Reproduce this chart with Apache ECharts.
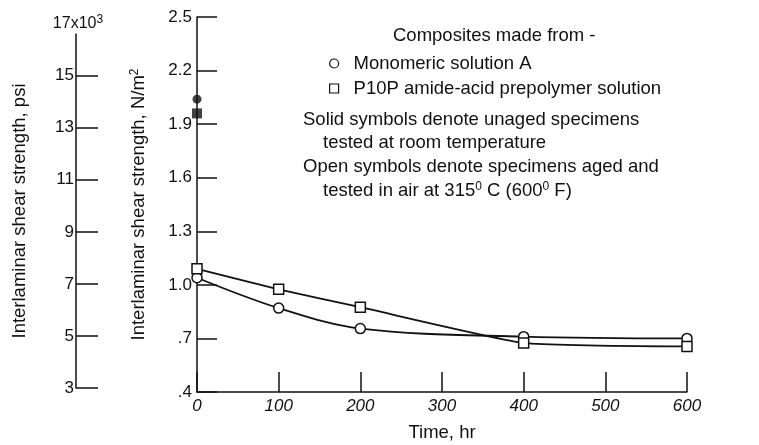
<!DOCTYPE html>
<html>
<head>
<meta charset="utf-8">
<script src="https://cdn.jsdelivr.net/npm/echarts@6/dist/echarts.min.js"></script>
<style>
  html, body { margin: 0; padding: 0; background: #fff; }
  #chart { width: 759px; height: 445px; }
</style>
</head>
<body>
<div id="chart"></div>
<script>
// aging time, hr
const times = [0, 100, 200, 400, 600]
// open symbols, aged in air at 315 C
const monomericA = [1.04, 0.87, 0.755, 0.71, 0.70]
const p10p = [1.09, 0.975, 0.875, 0.675, 0.655]
// solid symbols, unaged at room temperature
const unagedMonomericA = [[0, 2.04]]
const unagedP10p = [[0, 1.96]]
// psi axis ticks (x10^3)
const psiTicks = [3, 5, 7, 9, 11, 13, 15]

const font = "'Liberation Sans', Arial, sans-serif"
const black = "#111"
const txt = 18.5

const pairs = (ys) => times.map((t, i) => [t, ys[i]])

const chart = echarts.init(document.getElementById("chart"))

const openSymbol = {
  color: "#fff",
  borderColor: black,
  borderWidth: 1.5,
}
const sup = { fontSize: 12, verticalAlign: "top", padding: [0, 0, 8, 0], color: black }

const option = {
  backgroundColor: "#fff",
  animation: false,
  textStyle: { fontFamily: font, color: black },
  title: [
    {
      text: "Composites made from -",
      left: 393, top: 26, padding: 0,
      textStyle: { fontSize: txt, fontWeight: "normal", color: black },
    },
    {
      text: "Solid symbols denote unaged specimens",
      left: 303, top: 110, padding: 0,
      textStyle: { fontSize: txt, fontWeight: "normal", color: black },
    },
    {
      text: "tested at room temperature",
      left: 323, top: 133, padding: 0,
      textStyle: { fontSize: txt, fontWeight: "normal", color: black },
    },
    {
      text: "Open symbols denote specimens aged and",
      left: 303, top: 157, padding: 0,
      textStyle: { fontSize: txt, fontWeight: "normal", color: black },
    },
    {
      text: "tested in air at 315{sup|0} C (600{sup|0} F)",
      left: 323, top: 181, padding: 0,
      textStyle: { fontSize: txt, fontWeight: "normal", color: black, rich: { sup } },
    },
  ],
  legend: {
    orient: "vertical",
    left: 324,
    top: 49,
    itemWidth: 9,
    itemHeight: 9,
    itemGap: 6,
    selectedMode: false,
    textStyle: { fontSize: txt, color: black, padding: [0, 0, 0, 10] },
    data: [
      { name: "Monomeric solution A", icon: "circle", itemStyle: { color: "#fff", borderColor: black, borderWidth: 1.2 } },
      { name: "P10P amide-acid prepolymer solution", icon: "rect", itemStyle: { color: "#fff", borderColor: black, borderWidth: 1.2 } },
    ],
  },
  grid: [
    { left: 197, right: 72, top: 17, bottom: 53, outerBoundsMode: "none" },
    { left: 76, width: 10, top: 34, bottom: 57, outerBoundsMode: "none" },
  ],
  xAxis: [
    {
      type: "value",
      gridIndex: 0,
      min: 0,
      max: 600,
      interval: 100,
      name: "Time, hr",
      nameLocation: "middle",
      nameGap: 31,
      nameTextStyle: { fontSize: txt, color: black },
      axisLine: { lineStyle: { color: black, width: 1.5 } },
      axisTick: { inside: true, length: 20, lineStyle: { color: black, width: 1.5 } },
      axisLabel: { fontSize: 17, color: black, margin: 6, fontStyle: "italic" },
      splitLine: { show: false },
    },
    {
      type: "value",
      gridIndex: 1,
      show: false,
    },
  ],
  yAxis: [
    {
      type: "value",
      gridIndex: 0,
      min: 0.4,
      max: 2.5,
      interval: 0.3,
      name: "Interlaminar shear strength, N/m{sup|2}",
      nameLocation: "middle",
      nameGap: 48,
      nameTextStyle: { fontSize: txt, color: black, rich: { sup } },
      axisLine: { lineStyle: { color: black, width: 1.5 } },
      axisTick: { inside: true, length: 20, lineStyle: { color: black, width: 1.5 } },
      axisLabel: {
        fontSize: 17, color: black, margin: 5,
        formatter: (v) => {
          const s = v.toFixed(1)
          return s.startsWith("0") ? s.slice(1) : s
        },
      },
      splitLine: { show: false },
    },
    {
      type: "value",
      gridIndex: 1,
      position: "left",
      min: 3,
      max: 16.6,
      name: "Interlaminar shear strength, psi",
      nameLocation: "middle",
      nameGap: 47,
      nameTextStyle: { fontSize: txt, color: black },
      axisLine: { lineStyle: { color: black, width: 1.5 } },
      axisTick: { inside: true, length: 22, customValues: psiTicks, lineStyle: { color: black, width: 1.5 } },
      axisLabel: { fontSize: 17, color: black, margin: 2, customValues: psiTicks },
      splitLine: { show: false },
    },
    {
      // only carries the 17x10^3 label at the top of the psi scale
      type: "value",
      gridIndex: 1,
      position: "left",
      offset: 0,
      min: 3,
      max: 16.6,
      name: "17x10{sup|3}",
      nameLocation: "end",
      nameGap: 0,
      nameTextStyle: { fontSize: 16, color: black, padding: [0, 0, 0, 4], rich: { sup } },
      axisLine: { show: false },
      axisTick: { show: false },
      axisLabel: { show: false },
      splitLine: { show: false },
    },
  ],
  series: [
    {
      name: "Monomeric solution A",
      type: "line",
      xAxisIndex: 0,
      yAxisIndex: 0,
      smooth: 0.35,
      symbol: "circle",
      symbolSize: 10,
      itemStyle: openSymbol,
      lineStyle: { color: black, width: 1.8 },
      data: pairs(monomericA),
      z: 3,
    },
    {
      name: "P10P amide-acid prepolymer solution",
      type: "line",
      xAxisIndex: 0,
      yAxisIndex: 0,
      smooth: 0.15,
      symbol: "rect",
      symbolSize: 10,
      itemStyle: openSymbol,
      lineStyle: { color: black, width: 1.8 },
      data: pairs(p10p),
      z: 3,
    },
    {
      name: "unaged A",
      type: "scatter",
      xAxisIndex: 0,
      yAxisIndex: 0,
      symbol: "circle",
      symbolSize: 9,
      itemStyle: { color: black },
      data: unagedMonomericA,
      z: 4,
    },
    {
      name: "unaged P10P",
      type: "scatter",
      xAxisIndex: 0,
      yAxisIndex: 0,
      symbol: "rect",
      symbolSize: 10,
      itemStyle: { color: black },
      data: unagedP10p,
      z: 4,
    },
  ],
}

chart.setOption(option)
</script>
</body>
</html>
